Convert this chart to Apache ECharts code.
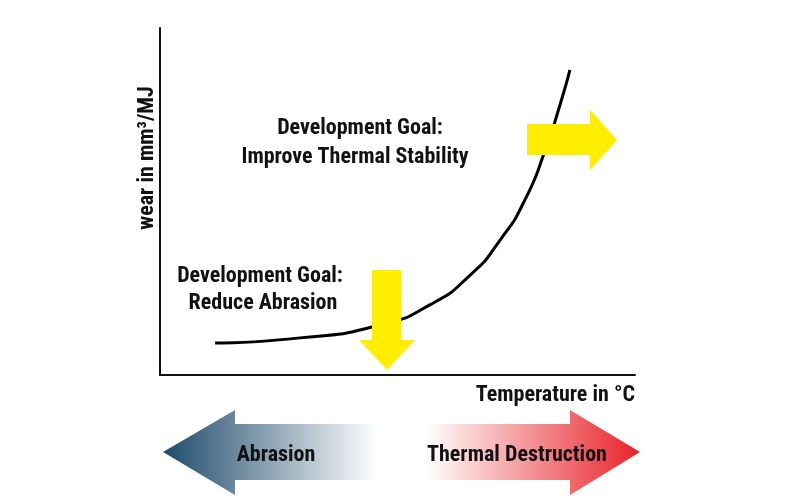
<!DOCTYPE html>
<html><head><meta charset="utf-8">
<script src="https://cdn.jsdelivr.net/npm/echarts@6/dist/echarts.min.js"></script>
<style>html,body{margin:0;background:#fff}#c{width:800px;height:500px}</style>
</head><body><div id="c"></div>
<script>
const curveX = [11.6, 29.5, 46.3, 56.8, 65.3, 71.6, 76.8, 81.1, 84.2, 86.3];
const curveY = [9.2, 10.7, 14.4, 20.2, 28.8, 38.9, 50.4, 64.8, 77.8, 87.9];
const yAxisName = 'wear in mm³/MJ';
const xAxisName = 'Temperature in °C';
const F = "'Liberation Sans Narrow','Roboto Condensed','DejaVu Sans Condensed',sans-serif";
const chart = echarts.init(document.getElementById('c'));
const yellow = '#ffee00';
function txt(x, y, s, opts) {
  return Object.assign({type:'text', x, y, style:{text:s, font:'bold 22px '+F, fill:'#111', align:'center', verticalAlign:'middle'}}, opts||{});
}
chart.setOption({
  animation:false,
  grid:{left:160, right:165, top:28, bottom:125},
  xAxis:{type:'value', min:0, max:100, axisLine:{lineStyle:{color:'#111', width:2}}, axisTick:{show:false}, axisLabel:{show:false}, splitLine:{show:false}},
  yAxis:{type:'value', min:0, max:100, axisLine:{show:true, lineStyle:{color:'#111', width:2}}, axisTick:{show:false}, axisLabel:{show:false}, splitLine:{show:false}},
  series:[{type:'line', smooth:0.6, symbol:'none', lineStyle:{color:'#000', width:3}, data:curveX.map((x,i)=>[x,curveY[i]]), z:1}],
  graphic:[
    {type:'polygon', z:10, shape:{points:[[527,124],[590,124],[590,110],[617,140],[590,170],[590,155],[527,155]]}, style:{fill:yellow}},
    {type:'polygon', z:10, shape:{points:[[372,270],[401,270],[401,340],[415,340],[387,370],[359,340],[372,340]]}, style:{fill:yellow}},
    {type:'polygon', z:10, shape:{points:[[163,452],[235,410],[235,424],[570,424],[570,410],[640,452],[570,495],[570,480],[235,480],[235,495]]},
      style:{fill:new echarts.graphic.LinearGradient(163,0,640,0,[{offset:0,color:'#1f4b6c'},{offset:0.45,color:'#ffffff'},{offset:0.55,color:'#ffffff'},{offset:1,color:'#e8232a'}],true)}},
    txt(360,128,'Development Goal:'),
    txt(355,157,'Improve Thermal Stability'),
    txt(260,276,'Development Goal:'),
    txt(263,303,'Reduce Abrasion'),
    txt(276,455,'Abrasion', {z:20}),
    txt(517,455,'Thermal Destruction', {z:20}),
    txt(635,395,xAxisName, {style:{text:xAxisName, font:'bold 22px '+F, fill:'#111', align:'right', verticalAlign:'middle'}}),
    {type:'text', x:147, y:158, rotation:Math.PI/2, style:{text:yAxisName, font:'bold 22px '+F, fill:'#111', align:'center', verticalAlign:'middle'}}
  ]
});
</script></body></html>
